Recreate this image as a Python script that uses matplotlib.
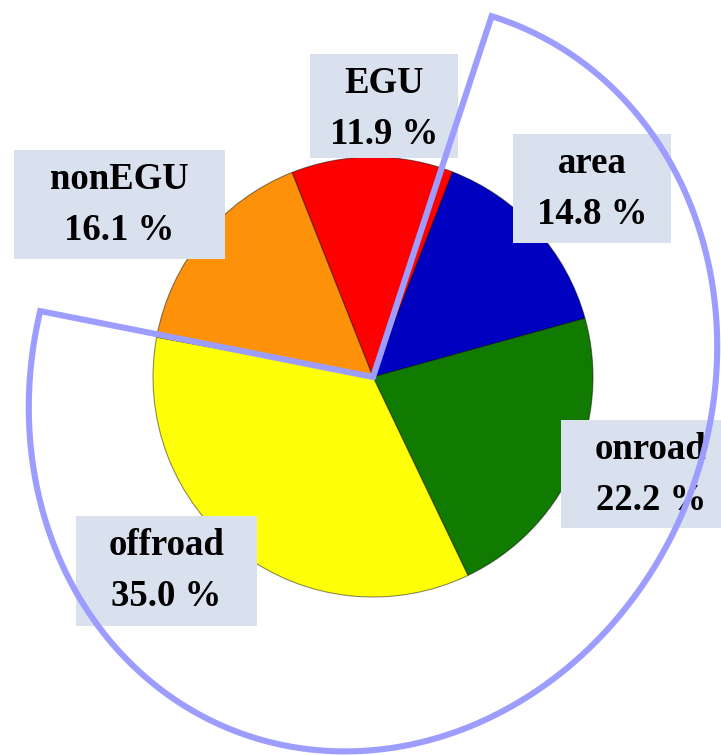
import numpy as np
import matplotlib
matplotlib.use("Agg")
import matplotlib.pyplot as plt
from matplotlib.patches import Rectangle, Polygon

# emission shares by sector (percent)
sectors = ["EGU", "area", "onroad", "offroad", "nonEGU"]
shares = [11.9, 14.8, 22.2, 35.0, 16.1]
colors = ["#ff0000", "#0000c0", "#117a00", "#ffff08", "#fd920a"]

# label boxes in pixel coords (left, top, width, height), same order as sectors
boxes = [(310, 54, 148, 104), (513, 134, 158, 109), (561, 420, 180, 108),
         (76, 516, 181, 110), (14, 150, 211, 109)]

W, H = 721, 755
CX, CY = 373, 755 - 377
R = 220

fig = plt.figure(figsize=(W / 100, H / 100), dpi=100)
ax = fig.add_axes([0, 0, 1, 1])

wedges, _ = ax.pie(shares, colors=colors, startangle=111.6, counterclock=False,
                   center=(CX, CY), radius=R,
                   wedgeprops=dict(edgecolor=(0, 0, 0, 0.45), linewidth=0.8))

for name, val, (bx, by, bw, bh) in zip(sectors, shares, boxes):
    ax.add_patch(Rectangle((bx, H - by - bh), bw, bh, facecolor="#dae1ee",
                           edgecolor="none", zorder=3))
    xc = bx + bw / 2
    ax.text(xc, H - (by + 39), name, ha="center", va="baseline",
            fontsize=26.5, fontweight="bold", family="Liberation Serif", zorder=4)
    ax.text(xc, H - (by + 90), f"{val:.1f} %", ha="center", va="baseline",
            fontsize=26.5, fontweight="bold", family="Liberation Serif", zorder=4)

# selection outline: tilted elliptical sector around area/onroad/offroad
a, b, tilt = 380.0, 338.0, 22.0
th = np.radians(np.linspace(18.2, 281.2, 300))
phi = th - np.radians(tilt)
r = a * b / np.sqrt((b * np.cos(phi)) ** 2 + (a * np.sin(phi)) ** 2)
pts = [(CX, CY)] + list(zip(CX + r * np.sin(th), CY + r * np.cos(th)))
ax.add_patch(Polygon(pts, closed=True, fill=False, edgecolor="#9d9dff",
                     linewidth=4.4, joinstyle="miter", zorder=5))

ax.set_xlim(0, W)
ax.set_ylim(0, H)
ax.set_aspect("auto")
ax.axis("off")

fig.savefig("out.png", dpi=100)
